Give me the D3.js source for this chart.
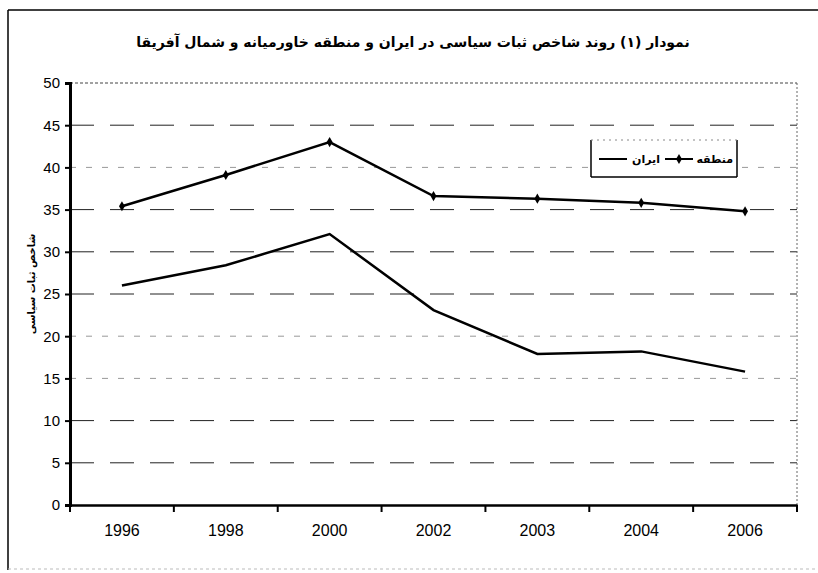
<!DOCTYPE html>
<html><head><meta charset="utf-8">
<script src="https://cdn.jsdelivr.net/npm/d3@7"></script>
<style>body{margin:0;background:#fff}svg{display:block}</style>
</head><body>
<svg id="c" width="818" height="573"></svg>
<script>
const years = ["1996","1998","2000","2002","2003","2004","2006"];
const region = [35.4, 39.1, 43.0, 36.6, 36.3, 35.8, 34.8];
const iran = [26.0, 28.4, 32.1, 23.1, 17.9, 18.2, 15.8];
const yTicks = [0,5,10,15,20,25,30,35,40,45,50];
const title = "نمودار (۱) روند شاخص ثبات سیاسی در ایران و منطقه خاورمیانه و شمال آفریقا";
const yLabel = "شاخص ثبات سیاسی";
const legendNames = ["منطقه","ایران"];

const svg = d3.select("#c");
const L=70, R=797, T=83, B=505;
const x = d3.scaleBand().domain(years).range([L,R]);
const y = d3.scaleLinear().domain([0,50]).range([B,T]);

// outer frame
svg.append("line").attr("x1",8).attr("x2",8).attr("y1",10).attr("y2",570).attr("stroke","#000").attr("stroke-width",1.5);
svg.append("line").attr("x1",8).attr("x2",818).attr("y1",10).attr("y2",10).attr("stroke","#000").attr("stroke-width",1.5);
svg.append("line").attr("x1",8).attr("x2",818).attr("y1",569).attr("y2",569).attr("stroke","#bbb").attr("stroke-width",1).attr("stroke-dasharray","3,3");

// title
svg.append("text").attr("x",413).attr("y",47).attr("text-anchor","middle")
  .attr("font-family","DejaVu Sans").attr("font-weight","bold").attr("font-size",14)
  .attr("direction","rtl").text(title);

// gridlines
const light = new Set([15,20,40]);
svg.append("g").selectAll("line").data(yTicks.filter(d=>d>0&&d<50)).join("line")
  .attr("x1",L).attr("x2",R).attr("y1",d=>y(d)).attr("y2",d=>y(d))
  .attr("stroke",d=>light.has(d)?"#999":"#222").attr("stroke-width",1)
  .attr("stroke-dasharray",d=>light.has(d)?"6,10":"24,16");
// top and right plot edges
svg.append("line").attr("x1",L).attr("x2",R).attr("y1",y(50)).attr("y2",y(50)).attr("stroke","#444").attr("stroke-dasharray","3,2");
svg.append("line").attr("x1",R).attr("x2",R).attr("y1",T).attr("y2",B).attr("stroke","#666").attr("stroke-dasharray","2,2");

// y axis
const ya = svg.append("g").attr("transform",`translate(${L},0)`)
  .call(d3.axisLeft(y).tickValues(yTicks).tickSize(5).tickPadding(5));
ya.select(".domain").attr("stroke-width",3);
ya.selectAll(".tick line").attr("stroke-width",2);
ya.selectAll("text").attr("font-family","Liberation Sans").attr("font-size",15).attr("fill","#000");

// x axis
const xa = svg.append("g").attr("transform",`translate(0,${B})`)
  .call(d3.axisBottom(x).tickSize(0).tickPadding(20));
xa.select(".domain").attr("stroke-width",2.5);
xa.selectAll("text").attr("font-family","Liberation Sans").attr("font-size",16).attr("fill","#000");
const bounds = years.map(d=>x(d)).concat([R]);
xa.selectAll(".btick").data(bounds).join("line").attr("class","btick")
  .attr("x1",d=>d).attr("x2",d=>d).attr("y1",0).attr("y2",7).attr("stroke","#000").attr("stroke-width",2);

// y label
svg.append("text").attr("transform","translate(35,284) rotate(-90)").attr("text-anchor","middle")
  .attr("font-family","DejaVu Sans").attr("font-weight","bold").attr("font-size",10)
  .attr("direction","rtl").text(yLabel);

// lines
const cx = d=>x(d)+x.bandwidth()/2;
const line = d3.line().x((d,i)=>cx(years[i])).y(d=>y(d));
svg.append("path").datum(region).attr("d",line).attr("fill","none").attr("stroke","#000").attr("stroke-width",2.5);
svg.append("path").datum(iran).attr("d",line).attr("fill","none").attr("stroke","#000").attr("stroke-width",2.5);
const diamond = d3.symbol().type(d3.symbolDiamond).size(30);
svg.append("g").selectAll("path").data(region).join("path")
  .attr("d",diamond).attr("transform",(d,i)=>`translate(${cx(years[i])},${y(d)})`).attr("fill","#000");

// legend
const lg = svg.append("g");
lg.append("rect").attr("x",591).attr("y",140).attr("width",146).attr("height",37).attr("fill","#fff").attr("stroke","none");
lg.append("line").attr("x1",591).attr("x2",591).attr("y1",140).attr("y2",177).attr("stroke","#000").attr("stroke-width",1.5);
lg.append("line").attr("x1",737).attr("x2",737).attr("y1",140).attr("y2",177).attr("stroke","#000").attr("stroke-width",1.5);
lg.append("line").attr("x1",591).attr("x2",737).attr("y1",177).attr("y2",177).attr("stroke","#000").attr("stroke-width",1.5);
lg.append("line").attr("x1",591).attr("x2",737).attr("y1",140).attr("y2",140).attr("stroke","#888").attr("stroke-dasharray","2,4");
lg.append("text").attr("x",733).attr("y",163).attr("text-anchor","start").attr("direction","rtl")
  .attr("font-family","DejaVu Sans").attr("font-weight","bold").attr("font-size",11).text(legendNames[0]);
lg.append("line").attr("x1",665).attr("x2",693).attr("y1",159).attr("y2",159).attr("stroke","#000").attr("stroke-width",2);
lg.append("path").attr("d",diamond).attr("transform","translate(679,159)");
lg.append("text").attr("x",660).attr("y",163).attr("text-anchor","start").attr("direction","rtl")
  .attr("font-family","DejaVu Sans").attr("font-weight","bold").attr("font-size",11).text(legendNames[1]);
lg.append("line").attr("x1",599).attr("x2",627).attr("y1",159).attr("y2",159).attr("stroke","#000").attr("stroke-width",2);
</script>
</body></html>
